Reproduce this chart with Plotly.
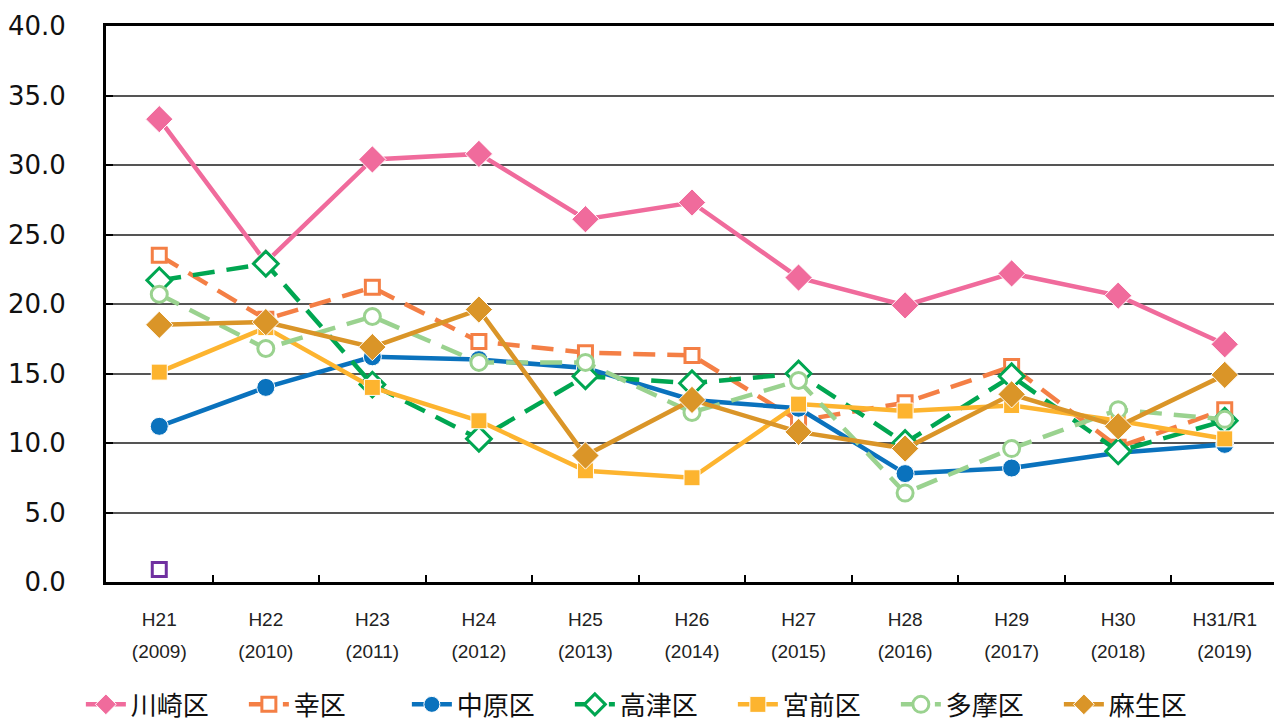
import plotly.graph_objects as go

categories = ["H21", "H22", "H23", "H24", "H25", "H26", "H27", "H28", "H29", "H30", "H31/R1"]
years = ["(2009)", "(2010)", "(2011)", "(2012)", "(2013)", "(2014)", "(2015)", "(2016)", "(2017)", "(2018)", "(2019)"]

kawasaki = [33.3, 23.0, 30.4, 30.8, 26.1, 27.3, 21.9, 19.9, 22.2, 20.6, 17.1]
saiwai = [23.5, 18.9, 21.2, 17.3, 16.5, 16.3, 11.6, 12.9, 15.5, 9.7, 12.4]
nakahara = [11.2, 14.0, 16.2, 16.0, 15.4, 13.1, 12.5, 7.8, 8.2, 9.3, 9.9]
takatsu = [21.7, 22.9, 14.2, 10.3, 14.8, 14.3, 15.0, 10.0, 14.8, 9.4, 11.6]
miyamae = [15.1, 18.3, 14.0, 11.6, 8.0, 7.5, 12.8, 12.3, 12.7, 11.6, 10.3]
tama = [20.7, 16.8, 19.1, 15.8, 15.8, 12.2, 14.5, 6.4, 9.6, 12.4, 11.7]
asao = [18.5, 18.7, 16.9, 19.6, 9.1, 13.1, 10.8, 9.6, 13.5, 11.2, 14.9]
extra = [0.9, None, None, None, None, None, None, None, None, None, None]

series = [
    ("川崎区", kawasaki, "#F06B9C", "solid", "diamond", True),
    ("幸区", saiwai, "#F47F45", "dash", "square", False),
    ("中原区", nakahara, "#0A72BD", "solid", "circle", True),
    ("高津区", takatsu, "#00A651", "dash", "diamond", False),
    ("宮前区", miyamae, "#FDB42F", "solid", "square", True),
    ("多摩区", tama, "#9AD28F", "dash", "circle", False),
    ("麻生区", asao, "#DA9528", "solid", "diamond", True),
]

fig = go.Figure()
for name, vals, color, dash, sym, filled in series:
    size = 21 if sym == "diamond" else (18 if sym == "circle" else 16)
    if filled:
        marker = dict(symbol=sym, size=size, color=color, line=dict(color="white", width=1))
    else:
        marker = dict(symbol=sym, size=size - 2, color="white", line=dict(color=color, width=3))
    fig.add_trace(go.Scatter(
        x=categories, y=vals, name=name, mode="lines+markers",
        line=dict(color=color, width=4.5, dash=("22px,12px" if dash == "dash" else "solid")),
        marker=marker,
    ))

fig.add_trace(go.Scatter(
    x=categories, y=extra, name="", mode="markers", showlegend=False,
    marker=dict(symbol="square", size=14, color="white", line=dict(color="#7030A0", width=3)),
))

fig.add_trace(go.Scatter(
    x=categories, y=[0] * len(categories), xaxis="x2", mode="markers",
    marker=dict(opacity=0), showlegend=False, hoverinfo="skip",
))

tickfont_x = dict(family="Liberation Sans Narrow, Arial Narrow, sans-serif", size=19, color="#222")

# page body has an 8px margin; figure size/margins compensate for it
fig.update_layout(
    width=1274, height=718,
    margin=dict(l=98, r=4, t=18, b=144, autoexpand=False),
    paper_bgcolor="white", plot_bgcolor="white",
    showlegend=True,
    legend=dict(
        orientation="h", xref="container", yref="container",
        x=0.505, xanchor="center", y=0.03, yanchor="middle",
        font=dict(family="Noto Sans CJK JP", size=26, color="#111"),
        itemwidth=40, entrywidth=108, entrywidthmode="pixels", tracegroupgap=0,
    ),
    xaxis=dict(
        type="category", categoryorder="array", categoryarray=categories,
        range=[-0.5, len(categories) - 0.5], automargin=False,
        showgrid=False, showline=True, linecolor="black", linewidth=3, mirror=True,
        ticks="inside", tickson="boundaries", ticklen=7, tickwidth=2, tickcolor="black",
        tickfont=tickfont_x, ticklabelstandoff=18,
    ),
    xaxis2=dict(
        type="category", categoryorder="array", categoryarray=categories,
        range=[-0.5, len(categories) - 0.5], overlaying="x", side="bottom", automargin=False,
        tickmode="array", tickvals=categories, ticktext=years,
        showgrid=False, showline=False, ticks="", tickfont=tickfont_x, ticklabelstandoff=56,
    ),
    yaxis=dict(
        range=[0, 40], dtick=5, tickformat=".1f", automargin=False,
        showgrid=True, gridcolor="#555", gridwidth=1.5,
        showline=True, linecolor="black", linewidth=3, mirror=True,
        ticks="inside", ticklen=7, tickwidth=2, tickcolor="black",
        tickfont=dict(family="DejaVu Sans", size=26, color="#111"),
        ticklabelstandoff=32, zeroline=False,
    ),
)

fig.write_html("out.html")
